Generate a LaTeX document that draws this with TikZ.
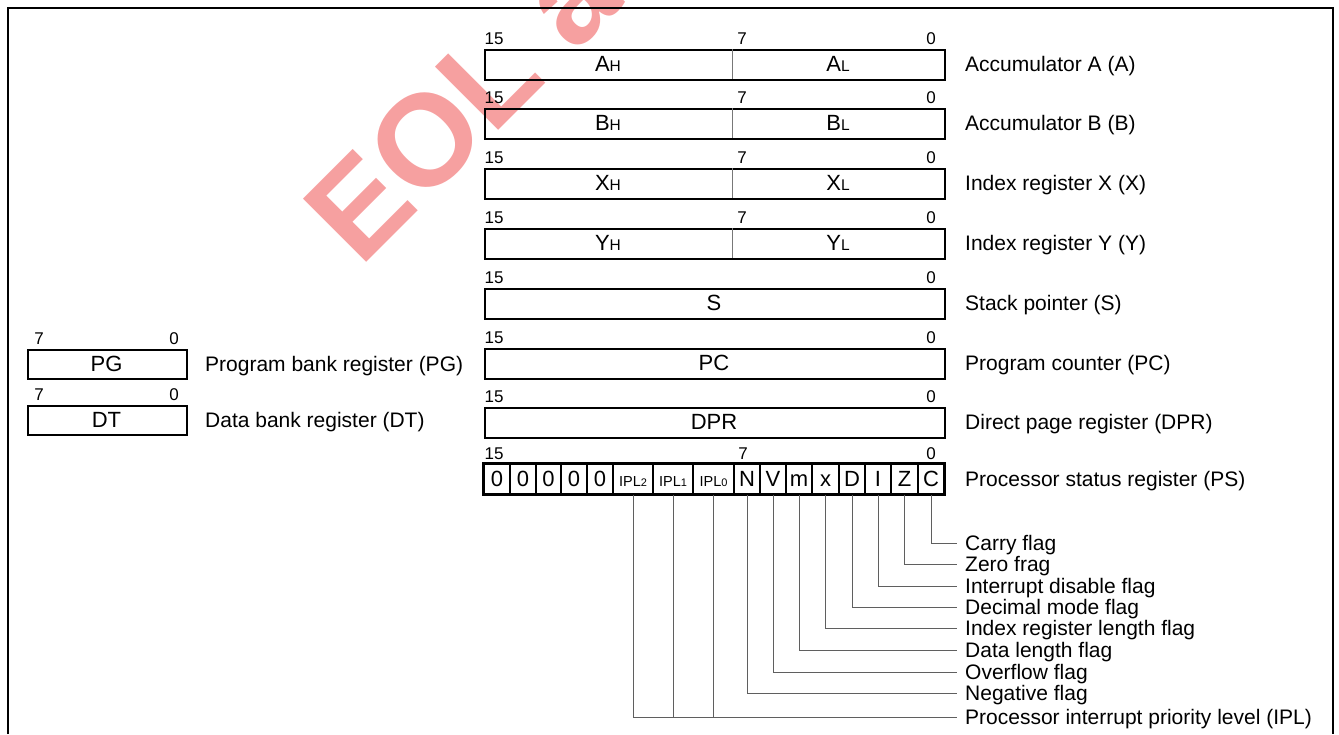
\documentclass[tikz,border=0pt]{standalone}
\usepackage{fontspec}
\setmainfont{Liberation Sans}
\newcommand\fbig{\fontsize{21}{24}\selectfont}
\newcommand\fregtxt{\fontsize{22}{25}\selectfont}
\newcommand\fnum{\fontsize{17}{20}\selectfont}
\newcommand\fsub{\fontsize{15.5}{18}\selectfont}
\newcommand\fipl{\fontsize{14.5}{16}\selectfont}
\newcommand\fiplsub{\fontsize{11}{12}\selectfont}
\newcommand\iplt[1]{{\fipl IPL\fiplsub #1}}
\newcommand\hl[2]{#1{\fsub #2}}
\definecolor{wm}{RGB}{246,160,160}
\definecolor{leadc}{RGB}{95,95,95}
\definecolor{divc}{RGB}{120,120,120}
\begin{document}
\begin{tikzpicture}[x=1pt,y=-1pt,
  regbox/.style={draw=black, line width=2pt, minimum height=30pt, inner sep=0pt, anchor=north west},
  boxtxt/.style={font=\fregtxt, inner sep=0pt, text height=15.5pt, text depth=0pt},
  bitnum/.style={font=\fnum, inner sep=0pt, anchor=base},
  lab/.style={font=\fbig, anchor=west, inner xsep=8pt, inner ysep=0pt, text height=15pt, text depth=0pt},
  pscell/.style={draw=black, line width=1.3pt, minimum height=30pt, inner sep=0pt, font=\fregtxt, text height=15.5pt, text depth=0pt},
  divline/.style={draw=divc, line width=1pt},
  leader/.style={draw=leadc, line width=1pt},
  wmark/.style={anchor=base west, rotate=45, inner sep=0pt, text=wm, font=\fontsize{130}{132}\selectfont\bfseries}
]
\useasboundingbox (0,0) rectangle (1339,734);
% watermark
\begin{scope}
\clip (0,0) rectangle (1339,734);
\node[wmark] (wmk) at (360,269) {EOL a};
\end{scope}
% outer frame
\draw[line width=2pt] (8,734) -- (8,8) -- (1333,8) -- (1333,734);

% split registers
\foreach \n/\t/\hi/\lo/\lb in {A/49/\hl{A}{H}/\hl{A}{L}/Accumulator A (A),
                               B/108/\hl{B}{H}/\hl{B}{L}/Accumulator B (B),
                               X/168/\hl{X}{H}/\hl{X}{L}/Index register X (X),
                               Y/228/\hl{Y}{H}/\hl{Y}{L}/Index register Y (Y)}{
  \node[regbox, minimum width=460pt] (\n) at (484,\t) {};
  \draw[divline] (732,\t) -- (732,{\t+30});
  \node[boxtxt] (\n h) at (608,{\t+15}) {\hi};
  \node[boxtxt] (\n l) at (838,{\t+15}) {\lo};
  \node[bitnum] (\n b15) at (494,{\t-5}) {15};
  \node[bitnum] (\n b7) at (742,{\t-5}) {7};
  \node[bitnum] (\n b0) at (931,{\t-5}) {0};
  \node[lab] (\n lab) at (957,{\t+15}) {\lb};
}
% full registers
\foreach \n/\t/\txt/\lb in {S/288/S/Stack pointer (S),
                            PC/348/PC/Program counter (PC),
                            DPR/407/DPR/Direct page register (DPR)}{
  \node[regbox, minimum width=460pt] (\n) at (484,\t) {};
  \node[boxtxt] (\n t) at (714,{\t+15}) {\txt};
  \node[bitnum] (\n b15) at (494,{\t-5}) {15};
  \node[bitnum] (\n b0) at (931,{\t-5}) {0};
  \node[lab] (\n lab) at (957,{\t+15}) {\lb};
}
% bank registers
\foreach \n/\t/\lb in {PG/349/Program bank register (PG), DT/405/Data bank register (DT)}{
  \node[regbox, minimum width=159pt, minimum height=29pt] (\n) at (27,\t) {};
  \node[boxtxt] (\n t) at (106.5,{\t+14.5}) {\n};
  \node[bitnum] (\n b7) at (39,{\t-5}) {7};
  \node[bitnum] (\n b0) at (174,{\t-5}) {0};
  \node[lab] (\n lab) at (197,{\t+14.5}) {\lb};
}

% processor status register
\foreach \l/\r/\t/\n in {484/510/0/p15, 510/536/0/p14, 536/561/0/p13, 561/587/0/p12,
    587/613/0/p11, 613/653/{\iplt{2}}/p10, 653/693/{\iplt{1}}/p9, 693/734/{\iplt{0}}/p8,
    734/760/N/p7, 760/786/V/p6, 786/812/m/p5, 812/839/x/p4, 839/865/D/p3,
    865/891/I/p2, 891/918/Z/p1, 918/944/C/p0}{
  \node[pscell, minimum width={\r-\l}] (\n) at ({(\l+\r)/2},479) {\t};
}
\draw[line width=2pt] (p15.north west) rectangle (p0.south east);
\node[bitnum] (PSb15) at (494,459) {15};
\node[bitnum] (PSb7) at (743,459) {7};
\node[bitnum] (PSb0) at (931,459) {0};
\node[lab] (PSlab) at (957,479) {Processor status register (PS)};

% flag labels
\foreach \y/\n/\t in {543/lC/Carry flag, 564/lZ/Zero frag, 586/lI/Interrupt disable flag,
    607/lD/Decimal mode flag, 628/lx/Index register length flag, 650/lm/Data length flag,
    672/lV/Overflow flag, 693/lN/Negative flag, 717/lIPL/Processor interrupt priority level (IPL)}{
  \node[lab] (\n) at (957,\y) {\t};
}
\draw[leader] (p0.south) |- (lC.west);
\draw[leader] (p1.south) |- (lZ.west);
\draw[leader] (p2.south) |- (lI.west);
\draw[leader] (p3.south) |- (lD.west);
\draw[leader] (p4.south) |- (lx.west);
\draw[leader] (p5.south) |- (lm.west);
\draw[leader] (p6.south) |- (lV.west);
\draw[leader] (p7.south) |- (lN.west);
\draw[leader] (p10.south) |- (lIPL.west);
\draw[leader] (p9.south) -- (p9.south |- lIPL.west);
\draw[leader] (p8.south) -- (p8.south |- lIPL.west);
\end{tikzpicture}
\end{document}
